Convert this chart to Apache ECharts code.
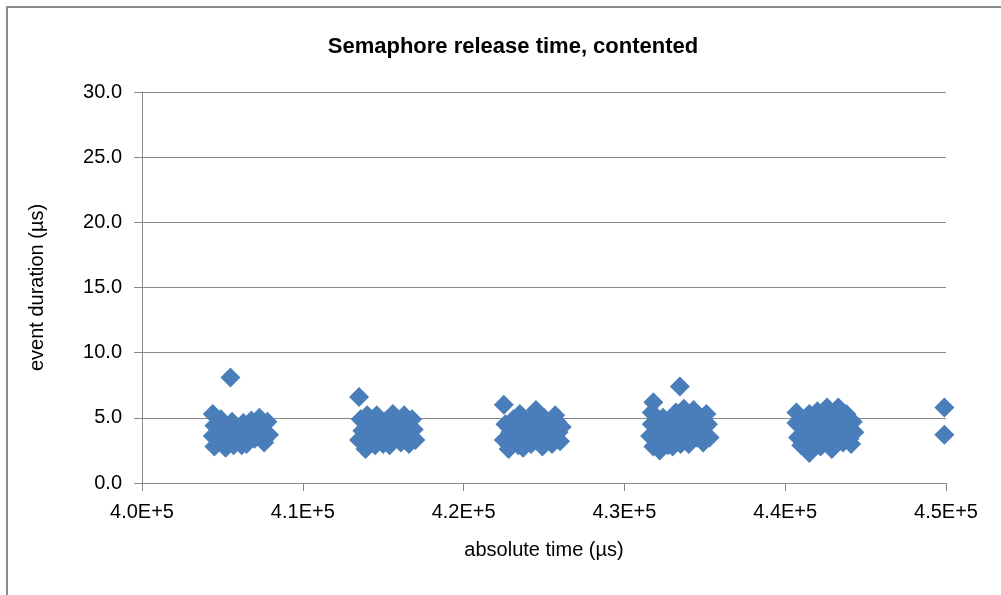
<!DOCTYPE html>
<html>
<head>
    <meta charset="utf-8" />
    <title>Semaphore release time</title>
    <script src="https://cdn.jsdelivr.net/npm/echarts@6/dist/echarts.min.js"></script>
    <style>
        body { margin: 0; background: #fff; }
        #main { width: 1001px; height: 595px; }
    </style>
</head>
<body>
    <div id="main"></div>
    <script type="text/javascript">
        var cluster1 = [
            [405500, 8.1],
            [404400, 5.3], [404500, 4.4], [404400, 3.6], [404500, 2.8], [404900, 4.9], [405000, 3.9],
            [405100, 3.2], [405200, 2.7], [405600, 4.7], [405500, 3.6], [405700, 2.9], [405900, 4.2],
            [406100, 3.3], [406300, 4.6], [406400, 3.8], [406500, 3.0], [406800, 4.8], [406900, 4.1],
            [407000, 3.4], [407300, 5.0], [407400, 4.3], [407500, 3.6], [407600, 3.1], [407800, 4.7],
            [407900, 3.7], [404800, 4.3], [405300, 4.2], [405800, 3.4], [406000, 3.8], [406600, 4.2],
            [406700, 3.6], [407200, 3.9], [407100, 4.6], [405300, 3.5], [404700, 3.3], [406200, 2.9]
        ];
        var cluster2 = [
            [413500, 6.6],
            [413600, 4.9], [413700, 4.0], [413500, 3.3], [413900, 2.6], [414200, 4.5], [414300, 3.6],
            [414500, 2.9], [414600, 5.2], [414800, 4.2], [414900, 3.3], [415200, 4.8], [415300, 3.9],
            [415400, 2.9], [415600, 5.3], [415700, 4.4], [415800, 3.5], [416000, 4.0], [416100, 3.1],
            [416300, 5.2], [416400, 4.5], [416500, 3.6], [416600, 3.0], [416800, 4.9], [416900, 4.1],
            [417000, 3.3], [414000, 5.2], [414000, 3.9], [414100, 3.1], [414600, 3.9], [415000, 4.6],
            [415000, 3.0], [415500, 3.4], [415900, 4.7], [416200, 3.8], [416700, 3.6], [415400, 4.2],
            [414400, 4.9]
        ];
        var cluster3 = [
            [422500, 6.0],
            [422600, 4.5], [422500, 3.3], [422800, 2.6], [422900, 3.9], [423100, 4.9], [423300, 3.2],
            [423500, 5.3], [423600, 4.3], [423700, 2.7], [423900, 3.6], [424100, 4.7], [424200, 3.0],
            [424500, 5.6], [424600, 4.1], [424700, 3.4], [424900, 2.8], [425000, 5.0], [425200, 4.4],
            [425300, 3.6], [425500, 3.0], [425700, 5.2], [425800, 4.7], [425900, 3.9], [426000, 3.2],
            [426100, 4.3], [423000, 4.2], [423200, 3.7], [423400, 2.9], [423800, 4.6], [424000, 3.9],
            [424400, 3.6], [424800, 4.5], [425100, 3.2], [425400, 4.0], [425600, 3.5], [424300, 5.1]
        ];
        var cluster4 = [
            [433450, 7.4], [431800, 6.2],
            [431700, 5.4], [431700, 4.5], [431600, 3.6], [431800, 2.8], [432200, 2.5], [432200, 4.0],
            [432400, 5.0], [432500, 3.2], [432800, 4.5], [432900, 3.7], [433000, 2.8], [433200, 5.4],
            [433300, 4.2], [433400, 3.3], [433700, 5.7], [433800, 4.8], [433900, 3.9], [434000, 3.0],
            [434300, 5.6], [434400, 4.4], [434500, 3.5], [434700, 5.1], [434800, 4.0], [434900, 3.1],
            [435100, 5.3], [435200, 4.5], [435300, 3.5], [432000, 4.7], [432100, 3.4], [432600, 4.2],
            [432700, 2.9], [433100, 4.9], [433600, 4.4], [433500, 3.0], [434100, 5.1], [434200, 3.8],
            [434600, 4.5], [435000, 3.8], [432400, 3.7]
        ];
        var cluster5 = [
            [440700, 5.4], [440700, 4.6], [440800, 3.5], [441000, 2.9], [441200, 4.0], [441300, 5.0],
            [441500, 2.3], [441600, 3.3], [441800, 4.5], [442000, 5.5], [442100, 3.8], [442200, 2.8],
            [442400, 4.9], [442600, 5.8], [442700, 4.2], [442800, 3.3], [442900, 2.6], [443100, 5.0],
            [443300, 5.8], [443300, 3.8], [443500, 4.6], [443600, 3.1], [443800, 5.3], [443900, 4.1],
            [444000, 3.4], [444200, 4.7], [444300, 3.9], [441100, 4.5], [441300, 3.6], [441700, 2.8],
            [441900, 4.0], [442300, 3.5], [442500, 4.5], [442900, 3.8], [443000, 4.5], [443200, 3.3],
            [443700, 4.0], [441500, 5.3], [444100, 3.0]
        ];
        var cluster6 = [
            [449900, 5.8], [449900, 3.7]
        ];

        var points = [].concat(cluster1, cluster2, cluster3, cluster4, cluster5, cluster6);

        var font = "'Liberation Sans', Arial, sans-serif";
        var gridColor = '#878787';

        var myChart = echarts.init(document.getElementById('main'));
        var option = {
            backgroundColor: '#fff',
            animation: false,
            title: {
                text: 'Semaphore release time, contented',
                left: 508,
                top: 31,
                textAlign: 'center',
                textStyle: {
                    fontFamily: font,
                    fontWeight: 'bold',
                    fontSize: 22,
                    color: '#000'
                }
            },
            graphic: [{
                type: 'rect',
                shape: { x: 7, y: 7, width: 1200, height: 800 },
                style: { fill: null, stroke: '#8c8c8c', lineWidth: 2 },
                silent: true
            }],
            grid: {
                left: 142,
                right: 55,
                top: 92,
                bottom: 112
            },
            xAxis: {
                type: 'value',
                min: 400000,
                max: 450000,
                interval: 10000,
                name: 'absolute time (µs)',
                nameLocation: 'middle',
                nameGap: 57,
                nameTextStyle: { fontFamily: font, fontSize: 20, color: '#000' },
                axisLine: { show: true, lineStyle: { color: gridColor, width: 1 } },
                axisTick: { show: true, inside: false, length: 8, lineStyle: { color: gridColor } },
                splitLine: { show: false },
                axisLabel: {
                    fontFamily: font,
                    fontSize: 20,
                    color: '#000',
                    margin: 19,
                    formatter: function (v) {
                        return (v / 100000).toFixed(1) + 'E+5';
                    }
                }
            },
            yAxis: {
                type: 'value',
                min: 0,
                max: 30,
                interval: 5,
                name: 'event duration (µs)',
                nameLocation: 'middle',
                nameGap: 95,
                nameTextStyle: { fontFamily: font, fontSize: 20, color: '#000' },
                axisLine: { show: true, lineStyle: { color: gridColor, width: 1 } },
                axisTick: { show: true, inside: false, length: 8, lineStyle: { color: gridColor } },
                splitLine: { show: true, lineStyle: { color: gridColor, width: 1 } },
                axisLabel: {
                    fontFamily: font,
                    fontSize: 20,
                    color: '#000',
                    margin: 20,
                    formatter: function (v) {
                        return v.toFixed(1);
                    }
                }
            },
            series: [{
                name: 'duration',
                type: 'scatter',
                symbol: 'diamond',
                symbolSize: 20,
                itemStyle: { color: '#4A7EBB', opacity: 1 },
                data: points
            }]
        };
        myChart.setOption(option);
    </script>
</body>
</html>
